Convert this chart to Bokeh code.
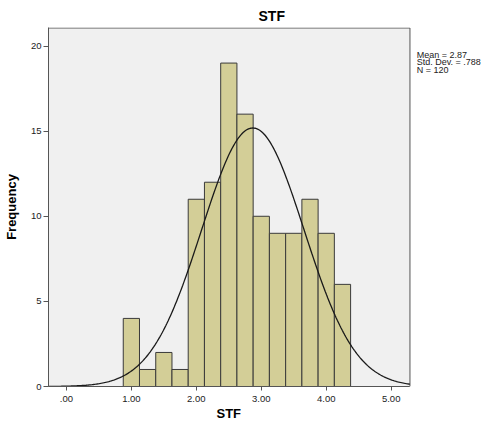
import numpy as np
from bokeh.plotting import figure
from bokeh.models import Range1d, FixedTicker, Label, Title
from bokeh.embed import file_html
from bokeh.resources import INLINE

# Data
bin_lefts = [0.875, 1.125, 1.375, 1.625, 1.875, 2.125, 2.375, 2.625, 2.875,
             3.125, 3.375, 3.625, 3.875, 4.125]
bin_width = 0.25
counts = [4, 1, 2, 1, 11, 12, 19, 16, 10, 9, 9, 11, 9, 6]
mean = 2.87
std_dev = 0.788
n_obs = 120
x_ticks = [0, 1, 2, 3, 4, 5]
x_tick_labels = [".00", "1.00", "2.00", "3.00", "4.00", "5.00"]
y_ticks = [0, 5, 10, 15, 20]
stats_lines = ["Mean = 2.87", "Std. Dev. = .788", "N = 120"]

FONT = "Liberation Sans"

X0, X1 = -0.276, 5.289      # plotting-area extent (data units)
Y1 = 21.09

p = figure(width=485, height=429,
           x_range=Range1d(X0, 6.452), y_range=Range1d(0, Y1),
           output_backend="svg", toolbar_location=None, tools="",
           min_border_left=47, min_border_right=0, min_border_top=27,
           min_border_bottom=43)

p.title.text = "STF"
p.title.align = "left"
p.title.offset = 210
p.title.text_font = FONT
p.title.text_font_size = "14px"
p.title.text_font_style = "bold"
p.title.text_color = "black"
p.title.standoff = 7

p.background_fill_color = "white"
p.border_fill_color = "white"
p.outline_line_color = None
p.xgrid.visible = False
p.ygrid.visible = False

# plotting area background with its frame
p.quad(left=[X0], right=[X1], bottom=[0], top=[Y1 - 0.03],
       fill_color="#F0F0F0", line_color="#555555", line_width=1)

lefts = np.array(bin_lefts)
p.quad(left=lefts, right=lefts + bin_width, top=counts, bottom=0,
       fill_color="#D3CE97", line_color="#3A3A3A", line_width=1)

xs = np.linspace(X0, X1, 300)
ys = n_obs * bin_width * np.exp(-0.5 * ((xs - mean) / std_dev) ** 2) / (std_dev * np.sqrt(2 * np.pi))
p.line(xs, ys, line_color="#1A1A1A", line_width=1.3)

for ax in (p.xaxis[0], p.yaxis[0]):
    ax.axis_line_color = "#555555"
    ax.major_tick_line_color = "#555555"
    ax.major_tick_in = 0
    ax.major_tick_out = 4
    ax.minor_tick_line_color = None
    ax.major_label_text_font = FONT
    ax.major_label_text_font_size = "9.5px"
    ax.major_label_text_color = "#222222"
    ax.axis_label_text_font = FONT
    ax.axis_label_text_font_size = "13px"
    ax.axis_label_text_font_style = "bold"
    ax.axis_label_text_color = "black"

p.xaxis.ticker = FixedTicker(ticks=x_ticks)
p.xaxis.bounds = (X0, X1)
p.xaxis.major_label_overrides = {t: s for t, s in zip(x_ticks, x_tick_labels)}
p.xaxis.major_label_standoff = 5

# x-axis title, centred under the plotting area (not under the wider frame)
p.add_layout(Title(text="STF", align="left", offset=168, standoff=-2,
                   text_font=FONT, text_font_size="13px",
                   text_font_style="bold", text_color="black"), "below")

p.yaxis.ticker = FixedTicker(ticks=y_ticks)
p.yaxis.axis_label = "Frequency"
p.yaxis.major_tick_out = 5
p.yaxis.major_label_standoff = 2
p.yaxis.axis_label_standoff = 9

for i, line in enumerate(stats_lines):
    p.add_layout(Label(x=5.392, y=19.49 - i * 0.45, text=line,
                       text_font=FONT, text_font_size="9px",
                       text_color="#222222", text_baseline="alphabetic"))

open("out.html", "w").write(file_html(p, INLINE))
